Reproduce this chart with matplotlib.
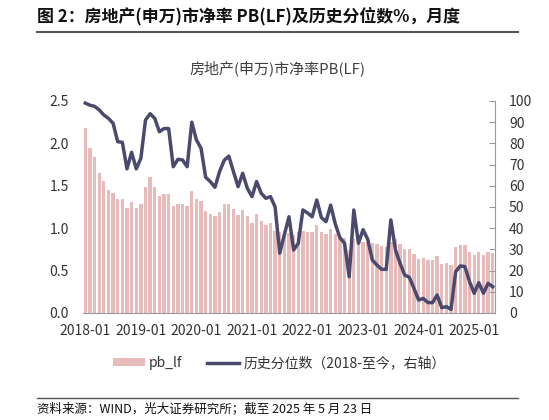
import matplotlib
matplotlib.use('Agg')
import matplotlib.pyplot as plt
import numpy as np
from matplotlib.lines import Line2D
from matplotlib.patches import Patch

plt.rcParams['font.family'] = ['Noto Sans CJK SC', 'DejaVu Sans']

# monthly data, 2018-01 .. 2025-05
months = [f"{y}-{m:02d}" for y in range(2018, 2026) for m in range(1, 13)][:89]

pb_lf = [2.18, 1.94, 1.84, 1.65, 1.56, 1.45, 1.42, 1.34, 1.34, 1.24, 1.31, 1.24,
         1.29, 1.48, 1.60, 1.49, 1.38, 1.40, 1.40, 1.26, 1.28, 1.28, 1.26, 1.44,
         1.35, 1.32, 1.20, 1.17, 1.14, 1.19, 1.28, 1.29, 1.23, 1.15, 1.21, 1.14,
         1.06, 1.17, 1.09, 1.04, 1.06, 0.97, 0.95, 0.93, 0.94, 0.92, 0.95, 0.97,
         0.96, 0.95, 1.04, 0.95, 0.935, 0.99, 0.93, 0.90, 0.88, 0.74, 0.87, 0.85,
         0.84, 0.84, 0.82, 0.81, 0.79, 0.78, 0.84, 0.87, 0.81, 0.755, 0.75, 0.70,
         0.64, 0.65, 0.63, 0.63, 0.67, 0.58, 0.59, 0.57, 0.78, 0.80, 0.80, 0.72,
         0.68, 0.72, 0.68, 0.72, 0.71]

pct = [99, 98, 97.5, 95.8, 93.4, 91.8, 89.5, 80.8, 80.5, 68, 75.8, 68,
       73, 91, 94, 91.8, 85.5, 87, 87, 69, 72.5, 72.2, 69, 90,
       81.6, 77.7, 64, 62, 59.3, 66.7, 72, 74, 66.7, 59.6, 65.9, 58.8,
       54.9, 62, 56.5, 54.1, 54.9, 50, 28.2, 37, 45.4, 29.7, 32.9, 48.6,
       47.2, 45.4, 53.3, 45, 43.1, 50.9, 42, 35.5, 32.9, 17.1, 48.6, 32.9,
       39.3, 34.8, 25, 22.6, 20.6, 20.6, 43.9, 29.7, 23.4, 17.9, 16.8, 11.6,
       6.1, 6.9, 4.9, 4.9, 8.5, 2.5, 3.0, 1.7, 19.5, 22.2, 21.9, 14.8,
       9.3, 14.3, 9.3, 14, 12.4]

bar_color = '#E8BBBB'
line_color = '#4B4A6E'
text_color = '#333333'

fig = plt.figure(figsize=(5.49, 4.2), dpi=100)
ax = fig.add_axes([83 / 549, 1 - 313 / 420, 412 / 549, 212 / 420])
ax2 = ax.twinx()

x = np.arange(len(months))
ax.bar(x, pb_lf, width=0.72, color=bar_color, zorder=1)
ax2.plot(x, pct, color=line_color, linewidth=2.5, zorder=3)

ax.set_xlim(-0.5, len(months) - 0.5)
ax.set_ylim(0, 2.5)
ax.set_yticks([0, 0.5, 1.0, 1.5, 2.0, 2.5])
ax.set_yticklabels([f"{v:.1f}" for v in [0, 0.5, 1.0, 1.5, 2.0, 2.5]])
ax2.set_ylim(0, 100)
ax2.set_yticks(range(0, 101, 10))

tick_idx = list(range(0, len(months), 12))
ax.set_xticks(tick_idx)
ax.set_xticklabels([months[i] for i in tick_idx])

for a in (ax, ax2):
    for s in a.spines.values():
        s.set_visible(False)
ax.spines['bottom'].set_visible(True)
ax.spines['bottom'].set_color('#9a9a9a')
ax2.spines['right'].set_visible(True)
ax2.spines['right'].set_color('#9a9a9a')

ax.tick_params(axis='x', length=0, pad=8, labelsize=10, labelcolor=text_color)
ax.tick_params(axis='y', length=0, pad=10, labelsize=10, labelcolor=text_color)
ax2.tick_params(axis='y', direction='in', length=4, color='#9a9a9a', pad=10,
                labelsize=10, labelcolor=text_color)
ax.set_zorder(ax2.get_zorder() - 1)
ax2.patch.set_visible(False)

# titles
fig.text(37 / 549, 1 - 16 / 420, "图 2：房地产(申万)市净率 PB(LF)及历史分位数%，月度",
         fontsize=12.2, fontweight='bold', color='#111111', va='center', ha='left')
fig.add_artist(Line2D([37 / 549, 518 / 549], [1 - 32 / 420] * 2, color='#555555', linewidth=1.5))
fig.text(277 / 549, 1 - 68 / 420, "房地产(申万)市净率PB(LF)", fontsize=10.8,
         color='#404040', ha='center', va='center')

handles = [Patch(facecolor=bar_color, edgecolor='none', label='pb_lf'),
           Line2D([0], [0], color=line_color, linewidth=2.5, label='历史分位数（2018-至今，右轴）')]
fig.legend(handles=handles, loc='center', bbox_to_anchor=(279 / 549, 1 - 363 / 420), ncol=2,
           frameon=False, fontsize=10, handlelength=2.3, handleheight=0.5,
           handletextpad=0.3, columnspacing=1.8, labelcolor=text_color)

fig.add_artist(Line2D([37 / 549, 518 / 549], [1 - 398 / 420] * 2, color='#555555', linewidth=1.0))
fig.text(37 / 549, 1 - 409 / 420, "资料来源：WIND，光大证券研究所；截至 2025 年 5 月 23 日",
         fontsize=9, color='#111111', va='center', ha='left')

fig.savefig('out.png', dpi=100)
